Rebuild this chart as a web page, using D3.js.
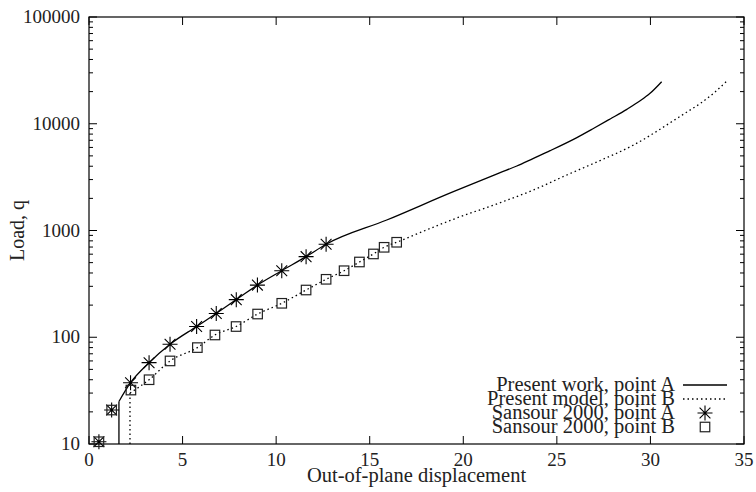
<!DOCTYPE html>
<html><head><meta charset="utf-8">
<script src="https://cdn.jsdelivr.net/npm/d3@7/dist/d3.min.js"></script>
<style>
body{margin:0;background:#fff;}
text{font-family:"Liberation Serif","DejaVu Serif",serif;fill:#222;}
</style></head>
<body>
<svg id="chart" width="756" height="492"></svg>
<script>
// Present work, point A (solid)
const presentAx = [1.6, 1.6, 2.22, 3.21, 4.33, 5.75, 6.8, 7.87, 9.0, 10.3, 11.6, 12.67, 15.91, 19.47, 21.97, 22.86, 23.75, 24.64, 26.07, 26.95, 27.85, 28.74, 29.45, 29.98, 30.6];
const presentAy = [10, 25, 37.5, 57.8, 86, 126, 167, 225, 308, 420, 569, 743, 1254, 2311, 3480, 4020, 4746, 5594, 7413, 9016, 11090, 13650, 16400, 19280, 24770];
// Present model, point B (dotted)
const presentBx = [2.19, 2.19, 3.21, 4.33, 5.79, 6.73, 7.86, 9.01, 10.3, 11.6, 12.67, 13.63, 14.45, 15.2, 15.77, 16.44, 19.47, 21.97, 23.75, 25.53, 27.31, 29.09, 29.98, 30.88, 31.77, 32.66, 33.37, 34.05];
const presentBy = [10, 30, 40, 60, 80, 105, 126, 165, 208, 277, 349, 420, 507, 603, 696, 776, 1274, 1821, 2395, 3311, 4520, 6310, 7760, 9770, 12300, 15490, 19280, 24800];
// Sansour 2000, point A (stars)
const sansourAx = [0.53, 1.21, 2.22, 3.21, 4.33, 5.75, 6.8, 7.87, 9.0, 10.3, 11.6, 12.67];
const sansourAy = [10.5, 20.8, 37.5, 57.8, 86, 126, 167, 225, 308, 420, 569, 743];
// Sansour 2000, point B (squares)
const sansourBx = [0.53, 1.21, 2.24, 3.21, 4.33, 5.79, 6.73, 7.86, 9.01, 10.3, 11.6, 12.67, 13.63, 14.45, 15.2, 15.77, 16.44];
const sansourBy = [10.5, 20.8, 32, 40, 60, 80, 105, 126, 165, 208, 277, 349, 420, 507, 603, 696, 776];

const xTicks = [0, 5, 10, 15, 20, 25, 30, 35];
const yTicks = [10, 100, 1000, 10000, 100000];
const legendLabels = ["Present work, point A", "Present model, point B", "Sansour 2000, point A", "Sansour 2000, point B"];
const xLabel = "Out-of-plane displacement";
const yLabel = "Load, q";

const svg = d3.select("#chart");
const L = 89, R = 744, T = 17, B = 444;
const x = d3.scaleLinear().domain([0, 35]).range([L, R]);
const y = d3.scaleLog().domain([10, 100000]).range([B, T]);

const minor = [];
for (let d = 10; d < 100000; d *= 10) for (let k = 2; k <= 9; k++) minor.push(d * k);

const g = svg.append("g");
minor.forEach(v => {
  g.append("line").attr("x1", L).attr("x2", L + 4).attr("y1", y(v)).attr("y2", y(v)).attr("stroke", "#000");
  g.append("line").attr("x1", R).attr("x2", R - 4).attr("y1", y(v)).attr("y2", y(v)).attr("stroke", "#000");
});
yTicks.forEach(v => {
  g.append("line").attr("x1", L).attr("x2", L + 8).attr("y1", y(v)).attr("y2", y(v)).attr("stroke", "#000");
  g.append("line").attr("x1", R).attr("x2", R - 8).attr("y1", y(v)).attr("y2", y(v)).attr("stroke", "#000");
  g.append("text").attr("x", L - 9).attr("y", y(v) + 6).attr("text-anchor", "end").attr("font-size", 19).text(v);
});
xTicks.forEach(v => {
  g.append("line").attr("x1", x(v)).attr("x2", x(v)).attr("y1", B).attr("y2", B - 8).attr("stroke", "#000");
  g.append("line").attr("x1", x(v)).attr("x2", x(v)).attr("y1", T).attr("y2", T + 8).attr("stroke", "#000");
  g.append("text").attr("x", x(v)).attr("y", B + 22).attr("text-anchor", "middle").attr("font-size", 19).text(v);
});
g.append("rect").attr("x", L).attr("y", T).attr("width", R - L).attr("height", B - T)
  .attr("fill", "none").attr("stroke", "#000").attr("stroke-width", 1.2);

g.append("text").attr("x", (L + R) / 2).attr("y", 482).attr("text-anchor", "middle").attr("font-size", 20.5).text(xLabel);
g.append("text").attr("transform", `translate(24,${(T + B) / 2}) rotate(-90)`).attr("text-anchor", "middle").attr("font-size", 20).text(yLabel);

const lin = d3.line().x(d => x(d[0])).y(d => y(d[1]));
const smooth = d3.line().x(d => x(d[0])).y(d => y(d[1])).curve(d3.curveMonotoneX);
function drawSeries(xs, ys, dash) {
  const pts = xs.map((v, i) => [v, ys[i]]);
  [lin(pts.slice(0, 2)), smooth(pts.slice(1))].forEach(d => {
    const p = g.append("path").attr("d", d).attr("fill", "none").attr("stroke", "#000").attr("stroke-width", 1.3);
    if (dash) p.attr("stroke-dasharray", dash);
  });
}
drawSeries(presentAx, presentAy, null);
drawSeries(presentBx, presentBy, "1.5,3");

function star(gg, cx, cy) {
  const r = 7.5, d = r * 0.72;
  gg.append("path").attr("d", `M${cx - r},${cy}H${cx + r}M${cx},${cy - r}V${cy + r}M${cx - d},${cy - d}L${cx + d},${cy + d}M${cx - d},${cy + d}L${cx + d},${cy - d}`)
    .attr("stroke", "#000").attr("stroke-width", 1.1).attr("fill", "none");
}
function square(gg, cx, cy) {
  const s = 9.5;
  gg.append("rect").attr("x", cx - s / 2).attr("y", cy - s / 2).attr("width", s).attr("height", s)
    .attr("fill", "none").attr("stroke", "#222").attr("stroke-width", 1.2);
}
sansourAx.forEach((v, i) => star(g, x(v), y(sansourAy[i])));
sansourBx.forEach((v, i) => square(g, x(v), y(sansourBy[i])));

// legend
const baselines = [391, 405, 419, 433];
legendLabels.forEach((t, i) => {
  g.append("text").attr("x", 675).attr("y", baselines[i]).attr("text-anchor", "end").attr("font-size", 20.5).text(t);
});
g.append("line").attr("x1", 683).attr("x2", 727).attr("y1", 385).attr("y2", 385).attr("stroke", "#000").attr("stroke-width", 1.3);
g.append("line").attr("x1", 683).attr("x2", 727).attr("y1", 399).attr("y2", 399).attr("stroke", "#000").attr("stroke-width", 1.3).attr("stroke-dasharray", "1.5,3");
star(g, 705, 413);
square(g, 705, 427);
</script>
</body></html>
